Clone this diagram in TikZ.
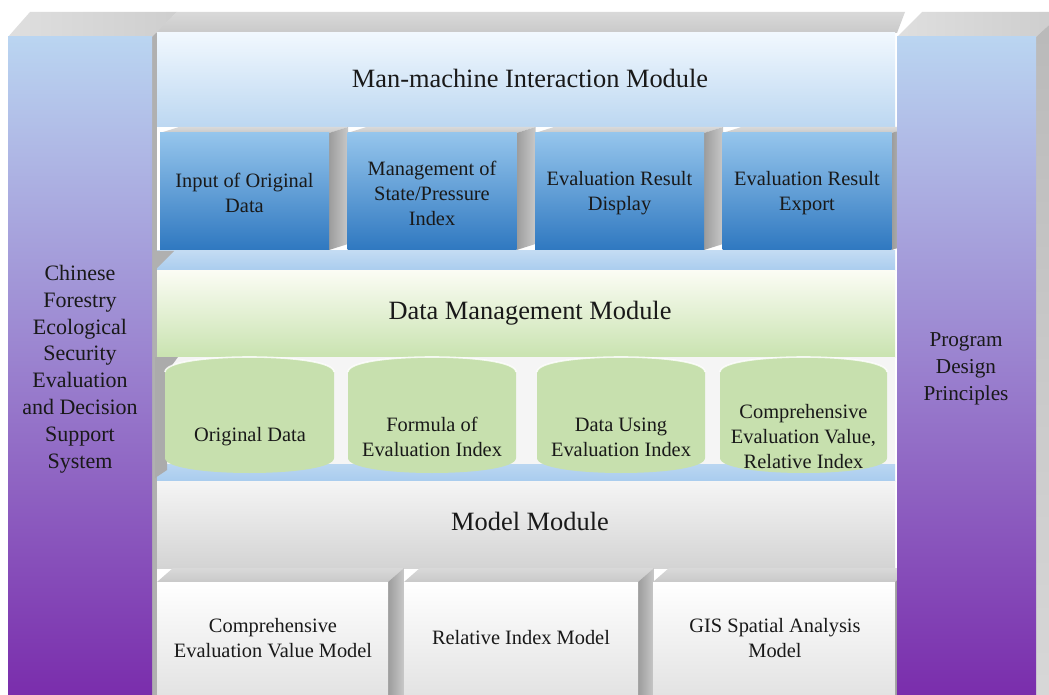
\documentclass[tikz,border=0pt]{standalone}
\usepackage{fontspec}
\setmainfont{Liberation Serif}
\usepackage{xcolor}
\definecolor{colTop}{HTML}{BAD5F1}
\definecolor{colMid}{HTML}{9F8DD6}
\definecolor{colBot}{HTML}{7A2DAC}
\definecolor{mmTop}{HTML}{F1F8FE}
\definecolor{mmBot}{HTML}{BCD7F1}
\definecolor{boxTop}{HTML}{95C5EC}
\definecolor{boxMid}{HTML}{68A6DE}
\definecolor{boxBot}{HTML}{2F78C0}
\definecolor{stripBlue}{HTML}{A9CCEE}
\definecolor{dmTop}{HTML}{FBFCF4}
\definecolor{dmMid}{HTML}{DDEDCB}
\definecolor{dmBot}{HTML}{C9E3B0}
\definecolor{cylGreen}{HTML}{C7E0AE}
\definecolor{faceGray}{HTML}{9C9C9C}
\definecolor{lidGray}{HTML}{C9C9C9}

\begin{document}
\begin{tikzpicture}[x=0.5pt,y=-0.5pt,
    txt/.style = {align=center, text=black!90, inner sep=0pt,
                  font=\fontsize{10.2}{12.5}\selectfont},
    head/.style = {text=black!90, inner sep=0pt,
                   font=\fontsize{13.2}{15}\selectfont},
    coltxt/.style = {align=center, text=black!90, inner sep=0pt,
                     font=\fontsize{11}{13.4}\selectfont},
    lid/.style = {top color=lidGray!70, bottom color=lidGray},
    side/.style = {left color=faceGray, right color=faceGray!55},
    cyl/.style = {fill=cylGreen}]
    \useasboundingbox (0,0) rectangle (1049,695);
    \fill[white] (0,0) rectangle (1049,695);

    % top lid of the middle block
    \shade[lid] (155,33) -- (177,12) -- (905,12) -- (897,33) -- cycle;
    \fill[faceGray!80] (152,33) rectangle (157,695);

    % man-machine interaction band
    \shade[top color=mmTop, middle color=mmTop!60!mmBot, bottom color=mmBot]
        (157,33) rectangle (895,127);
    \node[head] (mmi) at (530,78) {Man-machine Interaction Module};

    % blue boxes, lid and side face first
    \foreach \xa/\xb in {160/329, 347.5/516.5, 535/704, 722.5/891.5} {
        \shade[lid] (\xa,133) -- (\xa+19,127) -- (\xb+19,127) -- (\xb,133) -- cycle;
        \shade[side] (\xb,133) -- (\xb+19,127) -- (\xb+19,244) -- (\xb,250) -- cycle;
        \shade[top color=boxTop, middle color=boxMid, bottom color=boxBot]
            (\xa,133) rectangle (\xb,250);
    }
    \node[txt] (input) at (244.5,193) {Input of Original\\Data};
    \node[txt] (manage) at (432,193) {Management of\\State/Pressure\\Index};
    \node[txt] (display) at (619.5,193) {Evaluation Result\\Display};
    \node[txt] (export) at (807,193) {Evaluation Result\\Export};

    \shade[top color=stripBlue!70, bottom color=stripBlue] (157,251) rectangle (895,271);
    \fill[faceGray!80] (155,251) -- (174,251) -- (155,270) -- cycle;

    % data management band
    \shade[top color=dmTop, middle color=dmMid, bottom color=dmBot]
        (157,271) rectangle (895,357);
    \node[head] (dmm) at (530,313) {Data Management Module};

    % data stores
    \fill[black!4] (157,357) rectangle (895,466);
    \shade[top color=stripBlue!80, bottom color=stripBlue] (157,464) rectangle (895,481);
    \fill[faceGray!85] (155,357) -- (178,357) -- (167,372) -- (167,470) -- (155,478) -- cycle;
    \foreach \xa/\xb in {165/334, 348/516, 537/705, 720/887} {
        \fill[cyl] (\xa,372) .. controls (\xa,352) and (\xb,352) .. (\xb,372)
            -- (\xb,458) .. controls (\xb,478) and (\xa,478) .. (\xa,458) -- cycle;
        \draw[white, opacity=0.8, line width=0.8pt]
            (\xa,372) .. controls (\xa,352) and (\xb,352) .. (\xb,372);
    }
    \node[txt] (orig) at (250,437) {Original Data};
    \node[txt] (formula) at (432,437) {Formula of\\Evaluation Index};
    \node[txt] (using) at (621,437) {Data Using\\Evaluation Index};
    \node[txt] (compidx) at (803.5,437) {Comprehensive\\Evaluation Value,\\Relative Index};

    % model band
    \shade[top color=black!4, middle color=white, bottom color=black!17]
        (157,481) rectangle (895,568);
    \node[head] (model) at (530,521) {Model Module};

    \foreach \xa/\xb in {157/388, 404/638, 653/895} {
        \shade[lid] (\xa,582) -- (\xa+16,568) -- (\xb+16,568) -- (\xb,582) -- cycle;
        \shade[side] (\xb,582) -- (\xb+16,568) -- (\xb+16,695) -- (\xb,695) -- cycle;
        \shade[top color=white, middle color=black!2, bottom color=black!11]
            (\xa,582) rectangle (\xb,695);
    }
    \node[txt] (cevm) at (273,638) {Comprehensive\\Evaluation Value Model};
    \node[txt] (rim) at (521,638) {Relative Index Model};
    \node[txt] (gis) at (775,638) {GIS Spatial Analysis\\Model};

    % side columns
    \shade[left color=lidGray!60, right color=lidGray!90]
        (8,37) -- (30,12) -- (177,12) -- (152,37) -- cycle;
    \shade[top color=colTop, middle color=colMid, bottom color=colBot]
        (8,37) rectangle (152,695);
    \node[coltxt] (dss) at (80,369)
        {Chinese\\Forestry\\Ecological\\Security\\Evaluation\\and Decision\\Support\\System};

    \shade[left color=lidGray!60, right color=lidGray!90]
        (897,37) -- (922,12) -- (1049,12) -- (1049,25) -- (1036,37) -- cycle;
    \shade[top color=faceGray!70, bottom color=faceGray!40]
        (1036,37) -- (1049,25) -- (1049,695) -- (1036,695) -- cycle;
    \shade[top color=colTop, middle color=colMid, bottom color=colBot]
        (897,37) rectangle (1036,695);
    \node[coltxt, font=\fontsize{10.6}{13.5}\selectfont] (pdp) at (966,369)
        {Program\\Design\\Principles};
\end{tikzpicture}
\end{document}
